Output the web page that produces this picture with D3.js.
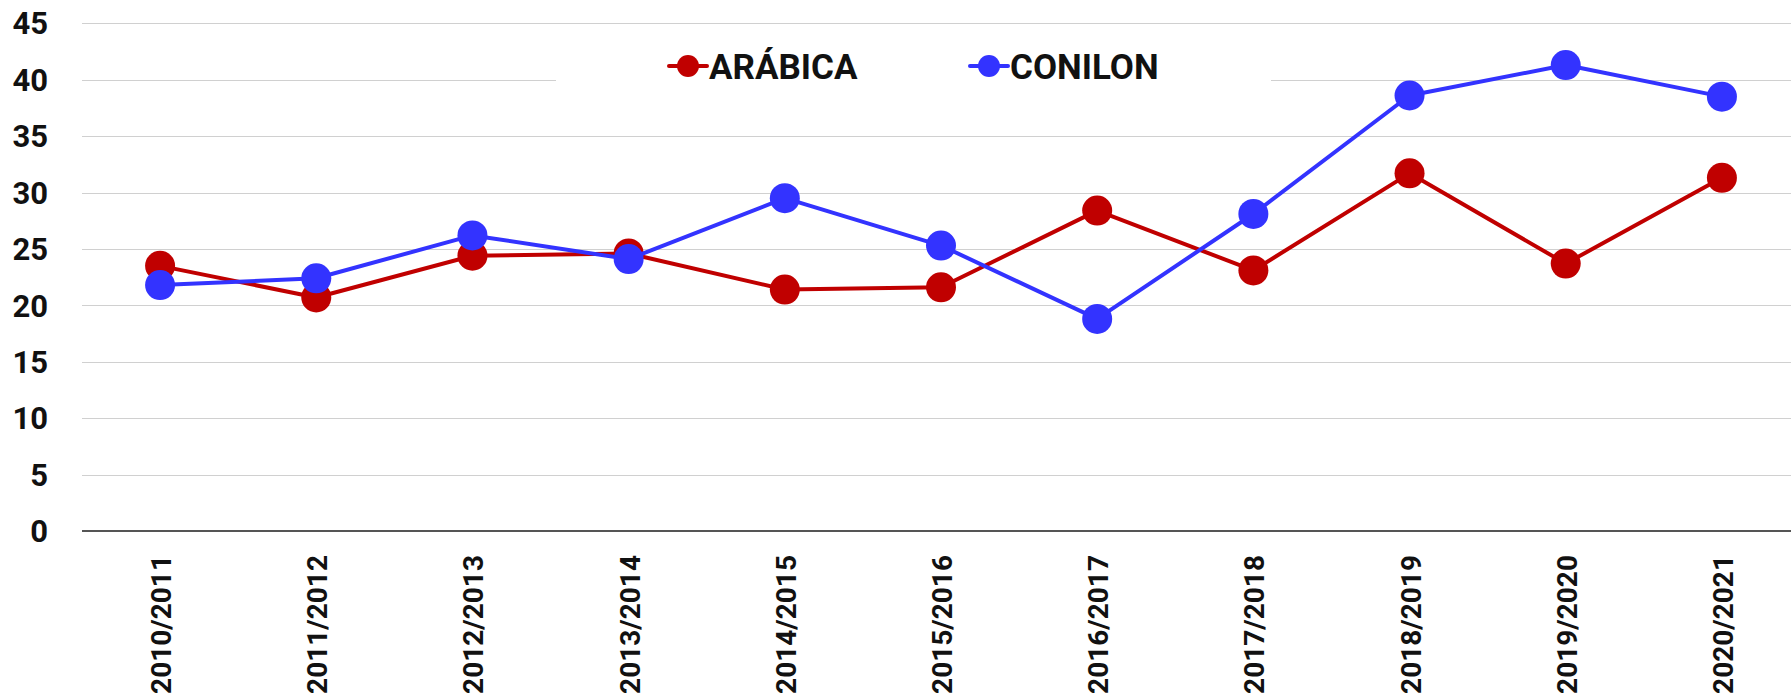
<!DOCTYPE html>
<html>
<head>
<meta charset="utf-8">
<script src="https://cdn.jsdelivr.net/npm/d3@7"></script>
<style>
  html, body { margin: 0; padding: 0; background: #fff; }
  svg { display: block; font-family: Roboto, "Open Sans", sans-serif; }
</style>
</head>
<body>
<svg id="chart" width="1791" height="694"></svg>
<script>
const categories = ["2010/2011","2011/2012","2012/2013","2013/2014","2014/2015","2015/2016","2016/2017","2017/2018","2018/2019","2019/2020","2020/2021"];
const arabica = [23.5, 20.7, 24.4, 24.6, 21.4, 21.6, 28.4, 23.1, 31.7, 23.7, 31.3];
const conilon = [21.8, 22.4, 26.2, 24.1, 29.5, 25.3, 18.8, 28.1, 38.6, 41.3, 38.5];
const yTicks = [0, 5, 10, 15, 20, 25, 30, 35, 40, 45];
const seriesNames = ["ARÁBICA", "CONILON"];
const seriesColors = ["#C00000", "#3333FF"];

(function () {
const svg = d3.select("#chart");
const W = 1791;
const mLeft = 82, mRight = 1800, mTop = 23.3, mBottom = 531;

const x = d3.scaleBand().domain(categories).range([mLeft, mRight]).padding(0);
const y = d3.scaleLinear().domain([0, 45]).range([mBottom, mTop]);
const cx = c => x(c) + x.bandwidth() / 2;

// gridlines
svg.append("g").selectAll("line").data(yTicks.filter(t => t > 0)).join("line")
  .attr("x1", mLeft).attr("x2", W)
  .attr("y1", d => Math.round(y(d)) + 0.5).attr("y2", d => Math.round(y(d)) + 0.5)
  .attr("stroke", "#d0d0d0").attr("stroke-width", 1);

// y labels
svg.append("g").selectAll("text").data(yTicks).join("text")
  .attr("x", 48).attr("y", d => y(d)).attr("dy", "0.36em")
  .attr("text-anchor", "end")
  .attr("font-size", 31).attr("font-weight", "bold").attr("fill", "#111")
  .text(d => d);

// zero axis
svg.append("line").attr("x1", mLeft).attr("x2", W)
  .attr("y1", y(0)).attr("y2", y(0))
  .attr("stroke", "#555").attr("stroke-width", 2);

// x labels
svg.append("g").selectAll("text").data(categories).join("text")
  .attr("transform", d => `translate(${cx(d) + 11},555) rotate(-90)`)
  .attr("text-anchor", "end")
  .attr("font-size", 28).attr("font-weight", "bold").attr("fill", "#111")
  .text(d => d);

// legend background
svg.append("rect").attr("x", 556).attr("y", 36).attr("width", 715).attr("height", 66).attr("fill", "#fff");

// series
const line = d3.line().x((d, i) => cx(categories[i])).y(d => y(d));
[arabica, conilon].forEach((vals, k) => {
  const g = svg.append("g");
  g.append("path").datum(vals).attr("d", line)
    .attr("fill", "none").attr("stroke", seriesColors[k]).attr("stroke-width", 4)
    .attr("stroke-linejoin", "round");
  g.selectAll("circle").data(vals).join("circle")
    .attr("cx", (d, i) => cx(categories[i])).attr("cy", d => y(d)).attr("r", 15)
    .attr("fill", seriesColors[k]);
});

// legend
const legendX = [669, 970];
seriesNames.forEach((name, k) => {
  const g = svg.append("g").attr("transform", `translate(${legendX[k]},66)`);
  g.append("line").attr("x1", 0).attr("x2", 38).attr("y1", 0).attr("y2", 0)
    .attr("stroke", seriesColors[k]).attr("stroke-width", 4).attr("stroke-linecap", "round");
  g.append("circle").attr("cx", 19).attr("cy", 0).attr("r", 11).attr("fill", seriesColors[k]);
  g.append("text").attr("x", 40).attr("y", 13)
    .attr("font-size", 35).attr("font-weight", "bold").attr("fill", "#111")
    .text(name);
});
})();
</script>
</body>
</html>
